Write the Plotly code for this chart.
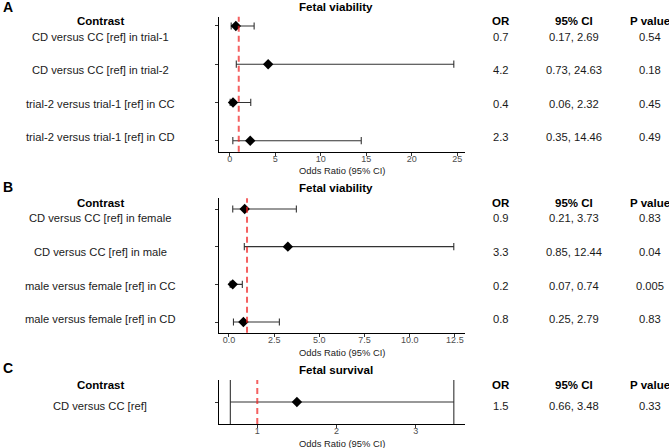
import plotly.graph_objects as go

W, H = 669, 448
FONT = "Liberation Sans, Arial, sans-serif"

# ---------------- data ----------------
labels_a = ["CD versus CC [ref] in trial-1", "CD versus CC [ref] in trial-2",
            "trial-2 versus trial-1 [ref] in CC", "trial-2 versus trial-1 [ref] in CD"]
or_a = [0.68, 4.23, 0.37, 2.26]
or_text_a = ["0.7", "4.2", "0.4", "2.3"]
lo_a = [0.17, 0.73, 0.06, 0.35]
hi_a = [2.69, 24.63, 2.32, 14.46]
p_a = ["0.54", "0.18", "0.45", "0.49"]

labels_b = ["CD versus CC [ref] in female", "CD versus CC [ref] in male",
            "male versus female [ref] in CC", "male versus female [ref] in CD"]
or_b = [0.87, 3.26, 0.21, 0.80]
or_text_b = ["0.9", "3.3", "0.2", "0.8"]
lo_b = [0.21, 0.85, 0.07, 0.25]
hi_b = [3.73, 12.44, 0.74, 2.79]
p_b = ["0.83", "0.04", "0.005", "0.83"]

labels_c = ["CD versus CC [ref]"]
or_c = [1.50]
or_text_c = ["1.5"]
lo_c = [0.66]
hi_c = [3.48]
p_c = ["0.33"]

ticks_a = [0, 5, 10, 15, 20, 25]
ticks_b = [0, 2.5, 5, 7.5, 10, 12.5]
ticks_c = [1, 2, 3]

ref_value = 1

# ---------------- layout helpers ----------------
def py(px):
    return 1 - px / H

def pxx(px):
    return px / W

X0, X1 = 219, 465
XC = 336

panels = [
    dict(letter="A", title="Fetal viability", labels=labels_a, orv=or_a, ortxt=or_text_a, lo=lo_a, hi=hi_a, p=p_a,
         xrange=[-1.17, 25.86], ticks=ticks_a, fmt="", yrange=[0.712, 4.243], ytop=16.7, ybot=151.7,
         cap=3.6, head_y=20.7, row_y0=36.7, row_dy=33.5, title_y=6.5, letter_y=7.5, axtitle_y=170.5),
    dict(letter="B", title="Fetal viability", labels=labels_b, orv=or_b, ortxt=or_text_b, lo=lo_b, hi=hi_b, p=p_b,
         xrange=[-0.55, 13.06], ticks=ticks_b, fmt=".1f", yrange=[0.716, 4.284], ytop=198.3, ybot=332.7,
         cap=3.6, head_y=202.5, row_y0=218.3, row_dy=33.7, title_y=187, letter_y=187, axtitle_y=352.5),
    dict(letter="C", title="Fetal survival", labels=labels_c, orv=or_c, ortxt=or_text_c, lo=lo_c, hi=hi_c, p=p_c,
         xrange=[0.517, 3.621], ticks=ticks_c, fmt="", yrange=[0.5, 1.5], ytop=380, ybot=424,
         cap=22, head_y=384.7, row_y0=406, row_dy=0, title_y=369, letter_y=368, axtitle_y=443.5),
]

fig = go.Figure()
annotations = []
shapes = []
layout_axes = {}

for i, pnl in enumerate(panels, start=1):
    n = len(pnl["labels"])
    yvals = [n - k for k in range(n)]
    xa = "x" if i == 1 else f"x{i}"
    ya = "y" if i == 1 else f"y{i}"
    fig.add_trace(go.Scatter(
        x=pnl["orv"], y=yvals, mode="markers",
        marker=dict(symbol="diamond", size=8, color="black"),
        error_x=dict(type="data", symmetric=False,
                     array=[h - o for h, o in zip(pnl["hi"], pnl["orv"])],
                     arrayminus=[o - l for o, l in zip(pnl["orv"], pnl["lo"])],
                     color="#333333", thickness=1.1, width=pnl["cap"]),
        xaxis=xa, yaxis=ya, hoverinfo="skip", cliponaxis=False))

    xkey = "xaxis" if i == 1 else f"xaxis{i}"
    ykey = "yaxis" if i == 1 else f"yaxis{i}"
    layout_axes[xkey] = dict(
        domain=[pxx(X0), pxx(X1)], anchor=ya, range=pnl["xrange"],
        tickvals=pnl["ticks"], tickformat=pnl["fmt"] if pnl["fmt"] else None,
        showline=True, linecolor="black", linewidth=1, ticks="outside", ticklen=3,
        tickcolor="#333333", tickwidth=1, showgrid=False, zeroline=False,
        ticklabelstandoff=-5,
        tickfont=dict(family=FONT, size=9, color="#4d4d4d"), fixedrange=True)
    layout_axes[ykey] = dict(
        domain=[py(pnl["ybot"]), py(pnl["ytop"])], anchor=xa, range=pnl["yrange"],
        tickvals=yvals, showticklabels=False, showline=True, linecolor="black", linewidth=1,
        ticks="outside", ticklen=3, tickcolor="#333333", tickwidth=1,
        showgrid=False, zeroline=False, fixedrange=True)

    shapes.append(dict(type="line", xref=xa, yref=f"{ya} domain", x0=ref_value, x1=ref_value, y0=0, y1=1,
                       line=dict(color="rgba(240,30,30,0.7)", width=2, dash="6px,4px"), layer="above"))

    def ann(text, x, y, size, bold=False, color="black", xanchor="center"):
        annotations.append(dict(text=f"<b>{text}</b>" if bold else text, x=x, y=y, xref="paper", yref="paper",
                                xanchor=xanchor, yanchor="middle", showarrow=False,
                                font=dict(family=FONT, size=size, color=color)))

    ann(pnl["letter"], pxx(1), py(pnl["letter_y"]), 14, bold=True, xanchor="left")
    ann(pnl["title"], pxx(XC), py(pnl["title_y"]), 11.6, bold=True)
    ann("Odds Ratio (95% CI)", pxx(342), py(pnl["axtitle_y"]), 9.4, color="#222222")
    # headers
    ann("Contrast", pxx(100), py(pnl["head_y"]), 11.5, bold=True)
    ann("OR", pxx(500.5), py(pnl["head_y"]), 11.5, bold=True)
    ann("95% CI", pxx(574.2), py(pnl["head_y"]), 11.5, bold=True)
    ann("P value", pxx(650), py(pnl["head_y"]), 11.5, bold=True)
    for k in range(n):
        yy = py(pnl["row_y0"] + k * pnl["row_dy"])
        ann(pnl["labels"][k], pxx(100), yy, 11.2, color="#1a1a1a")
        ann(pnl["ortxt"][k], pxx(500.5), yy, 11.2, color="#1a1a1a")
        ann(f"{pnl['lo'][k]:.2f}, {pnl['hi'][k]:.2f}", pxx(574.2), yy, 11.2, color="#1a1a1a")
        ann(pnl["p"][k], pxx(650), yy, 11.2, color="#1a1a1a")

fig.update_layout(width=W, height=H, margin=dict(l=0, r=0, t=0, b=0),
                  plot_bgcolor="white", paper_bgcolor="white", showlegend=False,
                  annotations=annotations, shapes=shapes, **layout_axes)

fig.write_html("out.html", config={"displayModeBar": False, "staticPlot": True},
               post_script="document.body.style.margin='0';document.body.style.padding='0';"
                           "document.documentElement.style.overflow='hidden';")
